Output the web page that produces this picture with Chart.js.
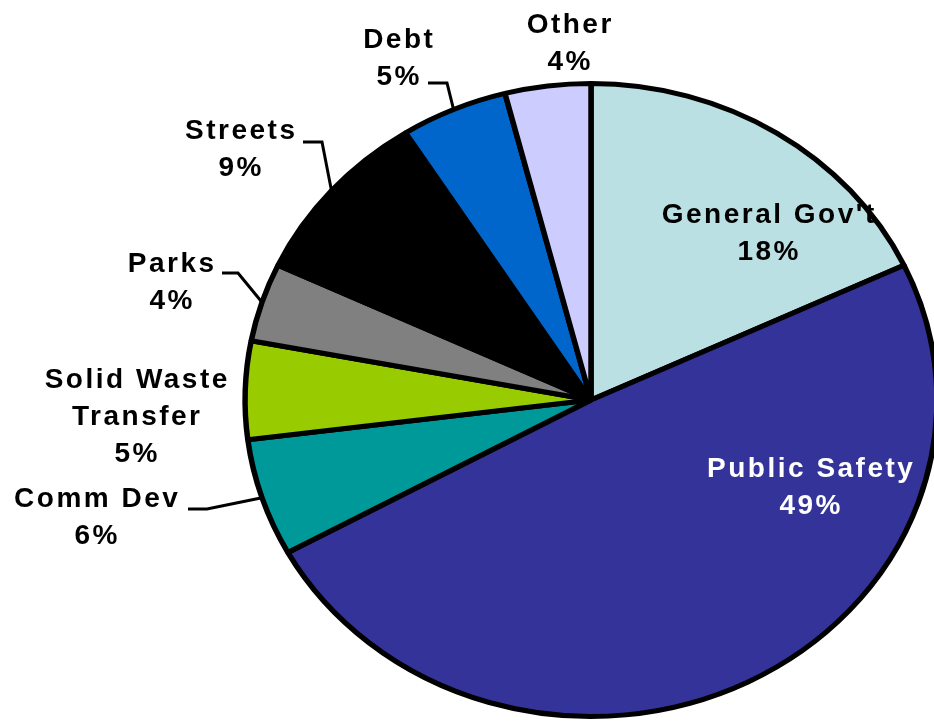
<!DOCTYPE html>
<html>
<head>
<meta charset="utf-8">
<title>Expenditures by Function</title>
<script src="https://cdn.jsdelivr.net/npm/chart.js@4.4.1/dist/chart.umd.min.js"></script>
<style>
    html, body { margin: 0; padding: 0; background: #ffffff; }
    canvas { display: block; }
</style>
</head>
<body>
<canvas id="pieChart" width="934" height="721"></canvas>
<script>
// Datos del gráfico
const categorias = ['General Gov\'t', 'Public Safety', 'Comm Dev', 'Solid Waste Transfer', 'Parks', 'Streets', 'Debt', 'Other'];
const porcentajes = [18, 49, 6, 5, 4, 9, 5, 4];
const colores = ['#BAE0E3', '#333399', '#009999', '#99CC00', '#808080', '#000000', '#0066CC', '#CCCCFF'];

// Etiquetas: líneas de texto, posición y color del texto
const lineasEtiqueta = [
    ['General Gov\'t'], ['Public Safety'], ['Comm Dev'], ['Solid Waste', 'Transfer'],
    ['Parks'], ['Streets'], ['Debt'], ['Other']
];
const posEtiqueta = [
    [768, 213], [810, 467], [96, 497], [136, 378],
    [171, 262], [240, 129], [398, 38], [569, 23]
];
const colorTexto = ['#000000', '#ffffff', '#000000', '#000000', '#000000', '#000000', '#000000', '#000000'];

// Líneas guía (inicio horizontal y codo); el extremo final sale del borde del sector
const guias = {
    2: [[188, 509], [207, 509]],
    4: [[222, 273], [238, 273]],
    5: [[303, 142], [322, 142]],
    6: [[428, 83], [447, 83]]
};

const ESCALA_X = 1.093;   // el pastel se dibuja achatado (elipse)
const FUENTE = 'bold 28px "Liberation Sans", Arial, sans-serif';
const ESPACIADO = 2.5;
const INTERLINEA = 37;

document.addEventListener('DOMContentLoaded', function () {
    const ctx = document.getElementById('pieChart').getContext('2d');

    // Estira el pastel horizontalmente alrededor de su centro
    const elipse = {
        id: 'elipse',
        beforeDatasetsDraw(chart) {
            const arc = chart.getDatasetMeta(0).data[0];
            const c = chart.ctx;
            c.save();
            c.translate(arc.x, arc.y);
            c.scale(ESCALA_X, 1);
            c.translate(-arc.x, -arc.y);
        },
        afterDatasetsDraw(chart) {
            chart.ctx.restore();
        }
    };

    // Dibuja etiquetas y líneas guía
    const etiquetas = {
        id: 'etiquetas',
        afterDraw(chart) {
            const c = chart.ctx;
            const arcs = chart.getDatasetMeta(0).data;
            c.save();

            c.strokeStyle = '#000000';
            c.lineWidth = 3;
            c.lineJoin = 'miter';
            Object.keys(guias).forEach(k => {
                const arc = arcs[k];
                const medio = (arc.startAngle + arc.endAngle) / 2;
                const bx = arc.x + ESCALA_X * arc.outerRadius * Math.cos(medio);
                const by = arc.y + arc.outerRadius * Math.sin(medio);
                const p = guias[k];
                c.beginPath();
                c.moveTo(p[0][0], p[0][1]);
                c.lineTo(p[1][0], p[1][1]);
                c.lineTo(bx, by);
                c.stroke();
            });

            c.font = FUENTE;
            c.letterSpacing = ESPACIADO + 'px';
            c.textAlign = 'center';
            c.textBaseline = 'alphabetic';
            categorias.forEach((cat, i) => {
                const lineas = lineasEtiqueta[i].concat([porcentajes[i] + '%']);
                const [x, y] = posEtiqueta[i];
                c.fillStyle = colorTexto[i];
                lineas.forEach((t, j) => {
                    c.fillText(t, x + ESPACIADO / 2, y + 10 + j * INTERLINEA);
                });
            });
            c.restore();
        }
    };

    new Chart(ctx, {
        type: 'pie',
        data: {
            labels: categorias,
            datasets: [{
                data: porcentajes,
                backgroundColor: colores,
                borderColor: '#000000',
                borderWidth: 5
            }]
        },
        options: {
            responsive: false,
            animation: false,
            events: [],
            layout: {
                padding: { left: 272, right: 24, top: 81, bottom: 2 }
            },
            plugins: {
                legend: { display: false },
                tooltip: { enabled: false }
            }
        },
        plugins: [elipse, etiquetas]
    });
});
</script>
</body>
</html>
